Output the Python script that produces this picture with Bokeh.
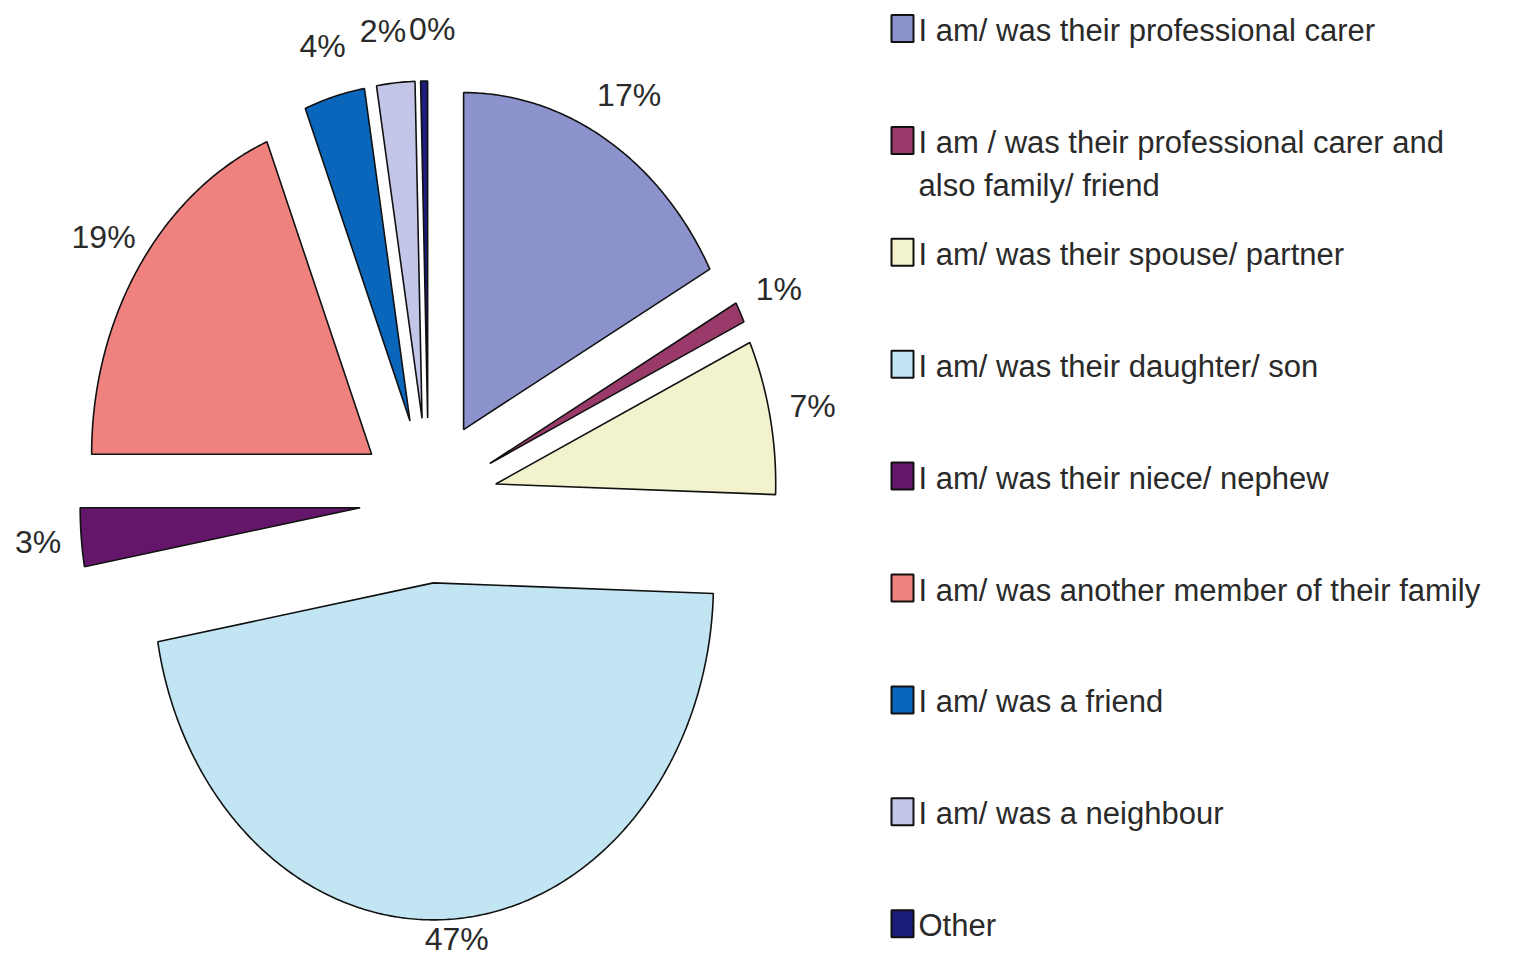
import numpy as np
from bokeh.plotting import figure
from bokeh.layouts import row
from bokeh.models import Range1d, ColumnDataSource
from bokeh.core.properties import value
from bokeh.embed import file_html
from bokeh.resources import INLINE

# ---- data ----
categories = [
    "I am/ was their professional carer",
    "I am / was their professional carer and\nalso family/ friend",
    "I am/ was their spouse/ partner",
    "I am/ was their daughter/ son",
    "I am/ was their niece/ nephew",
    "I am/ was another member of their family",
    "I am/ was a friend",
    "I am/ was a neighbour",
    "Other",
]
shares = [17.1, 1.0, 7.4, 46.7, 2.8, 18.9, 3.5, 2.2, 0.4]
colors = ["#8C93CC", "#9A3A6A", "#F2F2CC", "#C1E5F3", "#64176A",
          "#EF817E", "#0A66BA", "#C3C6E8", "#1C1C7C"]

# ---- layout / style ----
FONT = "Liberation Sans"
TXT = "#2a2a2a"
W_PIE, W_LEG, H = 862, 635, 964
CX, CY = 428, 500          # pie centre in pixels inside the pie figure
RX, RY = 280, 337          # pixel size of unit radius (x, y)
EXPLODE = 0.245
LABEL_R = 1.40
LABEL_FS = 32
LABEL_MAX_PY = 938         # keep labels inside the figure
GAP = 3

pie = figure(width=W_PIE, height=H,
             x_range=Range1d(-CX / RX, (W_PIE - CX) / RX),
             y_range=Range1d(-(H - CY) / RY, CY / RY),
             output_backend="svg", toolbar_location=None,
             x_axis_location=None, y_axis_location=None, min_border=0)
pie.grid.visible = False
pie.outline_line_color = None

total = float(sum(shares))
fr = np.array(shares) / total * 2 * np.pi
ends = np.cumsum(fr)
starts = ends - fr

def text_w(s):
    w = {"%": 0.889}
    return sum(w.get(c, 0.556) for c in s) * LABEL_FS

xs, ys, lpx, lpy, ltxt = [], [], [], [], []
for s, e, v in zip(starts, ends, shares):
    m = (s + e) / 2
    ax, ay = EXPLODE * np.sin(m), EXPLODE * np.cos(m)
    t = np.linspace(s, e, max(int((e - s) / 0.01), 2))
    xs.append([ax] + list(ax + np.sin(t)))
    ys.append([ay] + list(ay + np.cos(t)))
    # label position in pixel units (relative to centre)
    lpx.append(LABEL_R * np.sin(m) * RX)
    lpy.append(LABEL_R * np.cos(m) * RY)
    ltxt.append(f"{int(v / total * 100 + 0.5)}%")

# keep labels inside bottom edge
lpy = [max(y, CY - LABEL_MAX_PY) for y in lpy]
# resolve horizontal overlaps between neighbouring labels on the same row
for i in range(len(ltxt) - 1):
    j = i + 1
    if abs(lpy[i] - lpy[j]) < LABEL_FS:
        a, b = (i, j) if lpx[i] <= lpx[j] else (j, i)
        ov = (lpx[a] + text_w(ltxt[a]) / 2 + GAP) - (lpx[b] - text_w(ltxt[b]) / 2)
        if ov > 0:
            lpx[a] -= ov / 2
            lpx[b] += ov / 2

lx = [x / RX for x in lpx]
ly = [y / RY for y in lpy]

src = ColumnDataSource(dict(xs=xs, ys=ys, color=colors))
pie.patches("xs", "ys", source=src, fill_color="color",
            line_color="#111111", line_width=1.6)
pie.text(lx, ly, text=ltxt, text_align="center", text_baseline="middle",
         text_font=value(FONT), text_font_size=f"{LABEL_FS}px", text_color=TXT)

# ---- legend ----
leg = figure(width=W_LEG, height=H, x_range=Range1d(0, W_LEG),
             y_range=Range1d(H, 0), output_backend="svg",
             toolbar_location=None, x_axis_location=None,
             y_axis_location=None, min_border=0)
leg.grid.visible = False
leg.outline_line_color = None

Y0, DY, LINE = 30, 111.9, 43
sq_y = [Y0 + i * DY for i in range(len(categories))]
leg.rect([40] * len(categories), [y - 2 for y in sq_y], width=22, height=27,
         fill_color=colors, line_color="#111111", line_width=2)
tx, ty, tt = [], [], []
for y, lab in zip(sq_y, categories):
    for k, part in enumerate(lab.split("\n")):
        tx.append(56)
        ty.append(y + k * LINE)
        tt.append(part)
leg.text(tx, ty, text=tt, text_align="left", text_baseline="middle",
         text_font=value(FONT), text_font_size="31px", text_color=TXT)

layout = row(pie, leg)
open("out.html", "w").write(file_html(layout, INLINE))
